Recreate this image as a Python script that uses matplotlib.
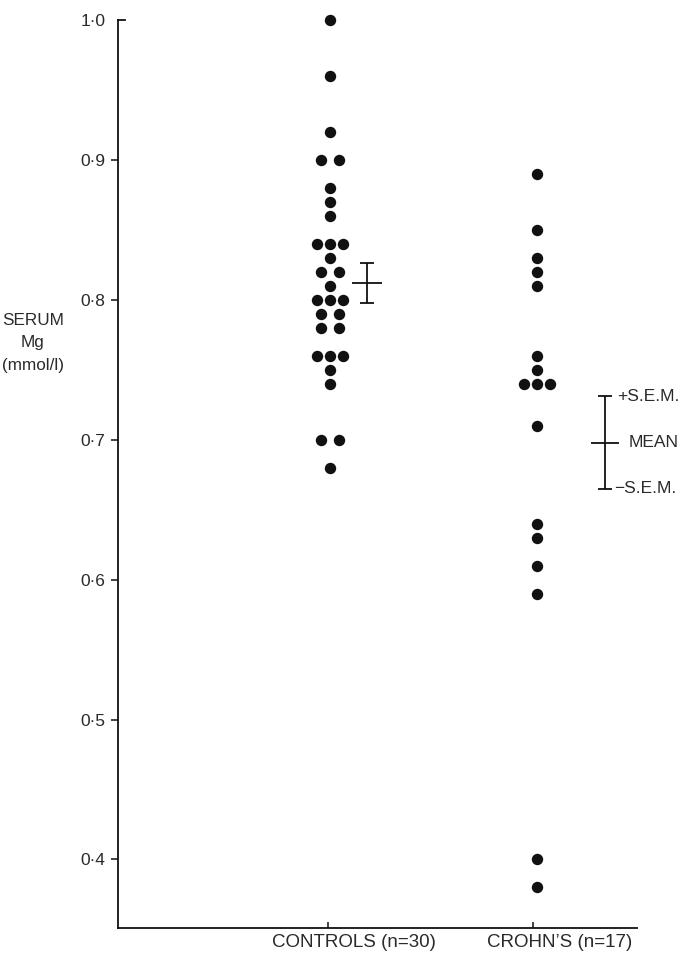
import numpy as np
import matplotlib
matplotlib.use("Agg")
import matplotlib.pyplot as plt
import matplotlib.transforms as mtransforms

plt.rcParams["font.family"] = ["Liberation Sans", "DejaVu Sans"]

# ---------------------------------------------------------------------------
# Data: serum magnesium (mmol/l)
# ---------------------------------------------------------------------------
controls = [1.00, 0.96, 0.92, 0.90, 0.90, 0.88, 0.87, 0.86, 0.84, 0.84,
            0.84, 0.83, 0.82, 0.82, 0.81, 0.80, 0.80, 0.80, 0.79, 0.79,
            0.78, 0.78, 0.76, 0.76, 0.76, 0.75, 0.74, 0.70, 0.70, 0.68]
crohns = [0.89, 0.85, 0.83, 0.82, 0.81, 0.76, 0.75, 0.74, 0.74, 0.74,
          0.71, 0.64, 0.63, 0.61, 0.59, 0.40, 0.38]

group_labels = ["CONTROLS (n=30)", "CROHN\u2019S (n=17)"]
group_means = [0.812, 0.698]
group_sems = [0.014, 0.033]

yticks = [0.4, 0.5, 0.6, 0.7, 0.8, 0.9, 1.0]
key_labels = ["+S.E.M.", "MEAN", "\u2212S.E.M."]

# ---------------------------------------------------------------------------
# Figure
# ---------------------------------------------------------------------------
W, H = 681, 956
fig = plt.figure(figsize=(W / 100, H / 100), dpi=100)
ax = fig.add_axes([118 / W, 1 - 928 / H, (637 - 118) / W, (928 - 20) / H])

INK = "#111111"
TXT = "#2a2a2a"

# side-by-side offsets for tied values
spread = {1: [0.0], 2: [-0.042, 0.042], 3: [-0.062, 0.0, 0.062]}


def dot_positions(values, x0):
    xs, ys = [], []
    for v in sorted(set(values), reverse=True):
        n = values.count(v)
        for dx in spread[n]:
            xs.append(x0 + dx)
            ys.append(v)
    return xs, ys


group_x = [0.0, 1.0]
dot_shift = [0.01, 0.02]
for vals, x0, sh in zip([controls, crohns], group_x, dot_shift):
    xs, ys = dot_positions(vals, x0 + sh)
    ax.plot(xs, ys, "o", color=INK, markersize=8.2, markeredgewidth=0,
            clip_on=False)


def mean_cross(x, mean, sem, half=0.072, cap=0.034):
    kw = dict(color=INK, linewidth=1.3, solid_capstyle="butt", clip_on=False)
    ax.plot([x, x], [mean - sem, mean + sem], **kw)
    ax.plot([x - half, x + half], [mean, mean], **kw)
    for y in (mean - sem, mean + sem):
        ax.plot([x - cap, x + cap], [y, y], **kw)


# controls mean +/- SEM beside the dots
mean_cross(0.19, group_means[0], group_sems[0])
# Crohn's mean +/- SEM doubles as the key
kx = 1.351
mean_cross(kx, group_means[1], group_sems[1], half=0.068)
key_y = [group_means[1] + group_sems[1], group_means[1],
         group_means[1] - group_sems[1]]
key_dx = [0.058, 0.115, 0.045]
for lab, y, dx in zip(key_labels, key_y, key_dx):
    ax.text(kx + dx, y, lab, fontsize=12.5, color=TXT, ha="left",
            va="center", clip_on=False)

# axes styling
ax.set_xlim(-1.024, 1.507)
ax.set_ylim(0.351, 1.0)
for side in ("top", "right"):
    ax.spines[side].set_visible(False)
for side in ("left", "bottom"):
    ax.spines[side].set_linewidth(1.3)
    ax.spines[side].set_color(INK)

ax.set_yticks(yticks)
ax.set_yticklabels([f"{t:.1f}".replace(".", "\u00b7") for t in yticks])
ax.tick_params(axis="y", direction="out", length=5, width=1.1, pad=4,
               labelsize=12.5, labelcolor=TXT, color=INK)
ax.set_xticks(group_x)
ax.set_xticklabels([])
ax.tick_params(axis="x", direction="in", length=4, width=1.1, color=INK)
# top of the y axis turns inward instead of an outward tick
ax.yaxis.get_major_ticks()[-1].tick1line.set_visible(False)
ax.plot([0, 0.013], [1, 1], transform=ax.transAxes, color=INK,
        linewidth=1.3, solid_capstyle="projecting", clip_on=False)

# group labels under the axis
trans = mtransforms.blended_transform_factory(ax.transData, ax.transAxes)
for x0, lab in zip(group_x, group_labels):
    ax.text(x0 + 0.128, -0.0155, lab, transform=trans, fontsize=13.5,
            color=TXT, ha="center", va="center")

# y axis caption
fig.text(33 / W, 1 - 343 / H, "SERUM\nMg\n(mmol/l)", fontsize=12.3,
         color=TXT, ha="center", va="center", linespacing=1.6)

fig.savefig("out.png", dpi=100, facecolor="white")
